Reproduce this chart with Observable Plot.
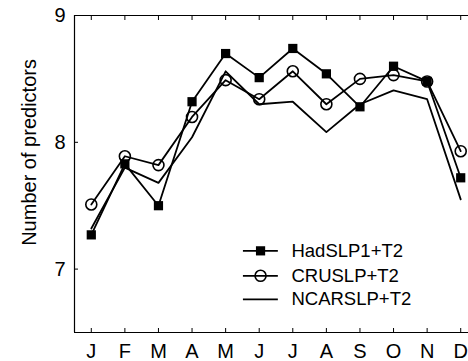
<!DOCTYPE html>
<html><head><meta charset="utf-8">
<script src="https://cdn.jsdelivr.net/npm/d3@7"></script>
<script src="https://cdn.jsdelivr.net/npm/@observablehq/plot@0.6"></script>
<style>
html,body{margin:0;padding:0;background:#fff;overflow:hidden;}
#chart svg{display:block;overflow:hidden;}
</style>
</head><body><div id="chart"></div>
<script>
const months = ["J","F","M","A","M","J","J","A","S","O","N","D"];
const hadSLP = [7.27,7.83,7.50,8.32,8.70,8.51,8.74,8.54,8.28,8.60,8.48,7.72];
const cruSLP = [7.51,7.89,7.82,8.20,8.49,8.34,8.56,8.30,8.50,8.53,8.48,7.93];
const ncarSLP = [7.32,7.80,7.68,8.04,8.56,8.30,8.32,8.08,8.30,8.41,8.34,7.55];
const seriesNames = ["HadSLP1+T2","CRUSLP+T2","NCARSLP+T2"];
const yTicks = [7,8,9];
const yLabel = "Number of predictors";

const rows = (vals) => vals.map((v,i)=>({m:i+1, v}));
const had = rows(hadSLP), cru = rows(cruSLP), ncar = rows(ncarSLP);

// legend rows (in data space)
const legY = [7.144, 6.947, 6.761];
const leg = seriesNames.map((n,i)=>({name:n, y:legY[i]}));

const font = "Liberation Sans, Arial, sans-serif";
const sw = 1.8;

const plot = Plot.plot({
  width: 468, height: 361,
  marginTop: 15, marginBottom: 29, marginLeft: 74, marginRight: -9,
  style: {fontFamily: font, fontSize: "20px", background: "#fff", color: "#000"},
  x: {domain: [0.5, 12.5], range: [74, 477]},
  y: {domain: [6.5, 9]},
  marks: [
    Plot.ruleY([6.5, 9], {stroke: "#000", strokeWidth: 1.2}),
    Plot.ruleX([0.5], {stroke: "#000", strokeWidth: 1.2}),
    Plot.axisY({ticks: yTicks, tickFormat: d => String(d), tickSize: 4, dx: 4, tickPadding: 9, label: null, fontSize: 20}),
    Plot.axisX({ticks: d3.range(1,13), tickFormat: d => months[d-1], tickSize: 4, dy: -4, tickPadding: 11, label: null, fontSize: 20}),
    Plot.axisX({anchor: "top", ticks: d3.range(1,13), tickSize: 4, dy: 4, tickFormat: () => "", label: null}),
    Plot.text([yLabel], {frameAnchor: "left", textAnchor: "middle", y: [7.92], dx: -45, rotate: -90, fontSize: 20, fill: "#000"}),
    Plot.line(ncar, {x: "m", y: "v", stroke: "#000", strokeWidth: sw}),
    Plot.line(cru, {x: "m", y: "v", stroke: "#000", strokeWidth: sw}),
    Plot.line(had, {x: "m", y: "v", stroke: "#000", strokeWidth: sw}),
    Plot.dot(had, {x: "m", y: "v", symbol: "square", r: 5.2, fill: "#000", stroke: "none"}),
    Plot.dot(cru, {x: "m", y: "v", symbol: "circle", r: 5.5, fill: "none", stroke: "#000", strokeWidth: 1.6}),
    // legend
    Plot.ruleY(leg, {y: "y", x1: 5.53, x2: 6.57, stroke: "#000", strokeWidth: sw}),
    Plot.dot(leg.slice(0,1), {x: 6.04, y: "y", symbol: "square", r: 5.2, fill: "#000"}),
    Plot.dot(leg.slice(1,2), {x: 6.04, y: "y", symbol: "circle", r: 5.5, fill: "none", stroke: "#000", strokeWidth: 1.6}),
    Plot.text(leg, {x: 6.96, y: "y", text: "name", textAnchor: "start", fontSize: 18.5, fill: "#000"})
  ]
});
document.getElementById("chart").appendChild(plot);
</script>
</body></html>
